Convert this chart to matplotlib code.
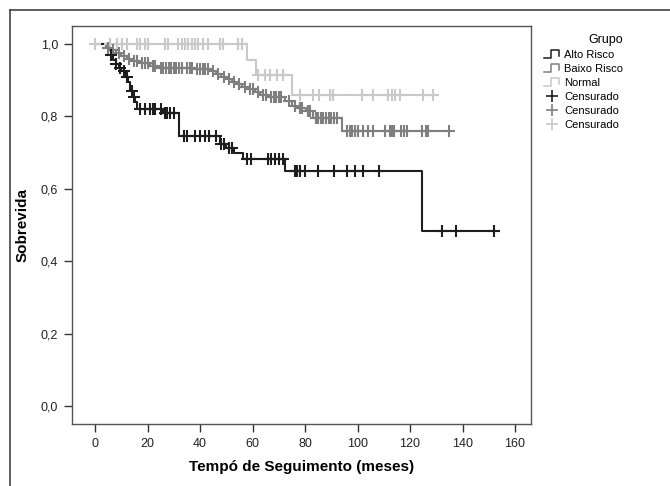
import numpy as np
import matplotlib
matplotlib.use('Agg')
import matplotlib.pyplot as plt
from matplotlib.legend_handler import HandlerBase
from matplotlib.lines import Line2D
from matplotlib.ticker import FuncFormatter

plt.rcParams['font.family'] = ['Liberation Sans', 'DejaVu Sans']

# ---------------- data ----------------
groups = ['Alto Risco', 'Baixo Risco', 'Normal']
colors = ['#1e1e1e', '#7f7f7f', '#c9c9c9']

alto_t = [0, 5, 6, 7, 8, 9, 10, 11.5, 12.5, 13.3, 14.5, 15.2, 16, 26, 32, 47.5, 50, 53, 56.5, 72.5, 124.5]
alto_s = [1.0, 0.985, 0.97, 0.955, 0.945, 0.935, 0.925, 0.91, 0.895, 0.87, 0.855, 0.84, 0.82, 0.81, 0.746,
          0.725, 0.713, 0.70, 0.682, 0.648, 0.484]
alto_end = 152
alto_cens = [6, 8, 9.5, 11, 12, 14, 15, 17, 19, 21, 22, 23, 25, 26.5, 27.5, 28.5, 30, 34, 35, 38, 40, 42,
             43.5, 46, 48, 49, 51, 52, 58, 59.5, 66, 67, 68.5, 70, 71.5, 76, 77, 78, 80, 85, 91, 96, 99,
             102, 108, 132, 137.5, 152]

baixo_t = [0, 4, 6, 8, 10, 12, 14, 17, 21, 24, 38, 44, 46, 48, 50, 52, 54, 56, 58, 61, 63, 66, 72.5, 75,
           77, 80.5, 83, 94]
baixo_s = [1.0, 0.99, 0.983, 0.975, 0.968, 0.96, 0.953, 0.948, 0.94, 0.935, 0.93, 0.925, 0.918, 0.91,
           0.903, 0.896, 0.889, 0.882, 0.876, 0.868, 0.86, 0.854, 0.842, 0.83, 0.822, 0.816, 0.797, 0.76]
baixo_end = 135
baixo_cens = [5, 7, 9, 11, 13, 15, 16, 18, 19, 20, 22, 23, 25, 26, 27, 28, 29, 30, 31, 32, 33, 35, 36,
              37, 39, 40, 41, 42, 43, 45, 47, 49, 51, 53, 55, 57, 59, 60, 62, 64, 65, 67, 68, 69, 70, 71,
              74, 76, 78, 79, 81, 82, 84, 85, 86, 87, 88, 89, 90, 91, 92, 96, 97, 98, 99, 100, 102, 104,
              106, 110.5, 112.4, 113, 114, 116.4, 117.6, 119, 124.6, 126, 127, 135]

normal_t = [0, 58, 61.3, 75]
normal_s = [1.0, 0.957, 0.914, 0.859]
normal_end = 130
normal_cens = [0, 5.7, 8.4, 10.3, 12.2, 16, 17.1, 19, 20.2, 26.7, 27.8, 31.6, 33.1, 34.3, 35.4, 37, 38,
               39.2, 41.1, 43, 47.6, 48.8, 54.5, 56, 62, 64.8, 66.7, 69.3, 71.6, 78, 83, 85.3, 89.5,
               90.7, 101.7, 105.9, 111.6, 113.1, 114.3, 116, 125, 128.8]

x_ticks = [0, 20, 40, 60, 80, 100, 120, 140, 160]
y_ticks = [0.0, 0.2, 0.4, 0.6, 0.8, 1.0]

# ---------------- figure ----------------
fig = plt.figure(figsize=(6.7, 4.86), dpi=100)
ax = fig.add_axes([72 / 670, 1 - 424 / 486, (531 - 72) / 670, (424 - 26) / 486])

series = [(normal_t, normal_s, normal_end, normal_cens, colors[2]),
          (baixo_t, baixo_s, baixo_end, baixo_cens, colors[1]),
          (alto_t, alto_s, alto_end, alto_cens, colors[0])]

for t, s, end, cens, c in series:
    tt = list(t) + [end]
    ss = list(s) + [s[-1]]
    ax.step(tt, ss, where='post', color=c, lw=1.5, zorder=2)
    t_arr = np.array(t)
    s_arr = np.array(s)
    cy = [s_arr[np.searchsorted(t_arr, ct, side='right') - 1] for ct in cens]
    ax.plot(cens, cy, linestyle='none', marker='+', color=c, ms=8, mew=1.5, zorder=3)

ax.set_xlim(-8.8, 166.1)
ax.set_ylim(-0.05, 1.05)
ax.set_xticks(x_ticks)
ax.set_yticks(y_ticks)
ax.yaxis.set_major_formatter(FuncFormatter(lambda v, p: f'{v:.1f}'.replace('.', ',')))
ax.tick_params(direction='out', length=6, width=1, color='#333333', labelsize=9, pad=4,
               labelcolor='#222222')
for sp in ax.spines.values():
    sp.set_color('#555555')
    sp.set_linewidth(1.0)

ax.set_xlabel('Tempó de Seguimento (meses)', fontsize=11, fontweight='bold', labelpad=7)
ax.set_ylabel('Sobrevida', fontsize=11, fontweight='bold', labelpad=8)


class StepHandler(HandlerBase):
    def create_artists(self, legend, orig_handle, xdescent, ydescent, width, height, fontsize, trans):
        x0 = -xdescent
        y0 = -ydescent
        xs = [x0, x0 + width * 0.45, x0 + width * 0.45, x0 + width, x0 + width]
        ys = [y0, y0, y0 + height * 1.1, y0 + height * 1.1, y0 + height * 0.3]
        ln = Line2D(xs, ys, color=orig_handle.get_color(), lw=1.1, transform=trans)
        return [ln]


step_handles = [Line2D([], [], color=c) for c in colors]
cens_handles = [Line2D([], [], color=c, marker='+', linestyle='none', ms=8, mew=1.2) for c in colors]
handles = step_handles + cens_handles
labels = groups + ['Censurado'] * 3
hmap = {h: StepHandler() for h in step_handles}
leg = fig.legend(handles, labels, handler_map=hmap, loc='upper left',
                 bbox_to_anchor=(540 / 670, 1 - 30 / 486), frameon=False, fontsize=8,
                 title='Grupo', title_fontsize=9, handlelength=1.3, handletextpad=0.5,
                 labelspacing=0.35, borderaxespad=0)
leg._legend_box.align = 'right'

# outer frame lines
fig.add_artist(Line2D([10 / 670, 10 / 670], [0, 1 - 10 / 486], color='#444444', lw=1.2,
                      transform=fig.transFigure))
fig.add_artist(Line2D([10 / 670, 1], [1 - 10 / 486, 1 - 10 / 486], color='#444444', lw=1.2,
                      transform=fig.transFigure))

fig.savefig('out.png', dpi=100, facecolor='white')
